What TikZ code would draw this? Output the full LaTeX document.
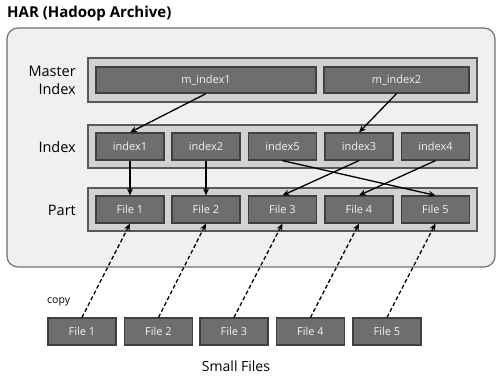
\documentclass[tikz,border=0pt]{standalone}
\usepackage{fontspec}
\setmainfont{Open Sans}
\usetikzlibrary{arrows.meta}
\definecolor{frameFill}{HTML}{F0F0F0}
\definecolor{frameLine}{HTML}{707070}
\definecolor{bandFill}{HTML}{D2D2D2}
\definecolor{bandLine}{HTML}{595959}
\definecolor{cellFill}{HTML}{6E6E6E}
\definecolor{cellLine}{HTML}{404040}
\definecolor{cellText}{HTML}{F2F2F2}
\tikzset{
  band/.style={draw=bandLine, line width=1.2bp, fill=bandFill, inner sep=0pt,
    minimum width=389bp, minimum height=43bp},
  cell/.style={draw=cellLine, line width=1.2bp, fill=cellFill, inner sep=0pt,
    minimum width=68bp, minimum height=27bp, text=cellText,
    font=\fontsize{11bp}{13bp}\selectfont},
  rowlabel/.style={anchor=east, align=right, inner sep=0pt,
    font=\fontsize{14.5bp}{18bp}\selectfont},
  link/.style={line width=1.3bp, -{Stealth[length=7bp,width=6bp]}},
  copylink/.style={link, dash pattern=on 4bp off 2.5bp}
}
\begin{document}
\begin{tikzpicture}[x=1bp,y=-1bp]
\useasboundingbox (0,0) rectangle (496,377);

% title
\node[anchor=west, inner sep=0pt, font=\bfseries\fontsize{15bp}{18bp}\selectfont]
  (title) at (7,14) {HAR (Hadoop Archive)};

% archive frame
\draw[draw=frameLine, line width=1.2bp, fill=frameFill, rounded corners=11bp]
  (7,28) rectangle (495,267);

% bands
\node[band, minimum height=44bp] (bandM) at (282.5,80) {};
\node[band] (bandI) at (282.5,146.5) {};
\node[band] (bandP) at (282.5,209.5) {};

% row labels
\node[rowlabel] (lblM) at (76,80) {Master\\Index};
\node[rowlabel] (lblI) at (76,147) {Index};
\node[rowlabel] (lblP) at (76,210) {Part};

% master index cells
\node[cell, minimum width=220bp, minimum height=26bp] (m1) at (206,80) {m\_index1};
\node[cell, minimum width=145bp, minimum height=26bp] (m2) at (396.5,80) {m\_index2};

% index cells
\node[cell] (i1) at (130,146.5) {index1};
\node[cell] (i2) at (206,146.5) {index2};
\node[cell] (i5) at (282.5,146.5) {index5};
\node[cell] (i3) at (359,146.5) {index3};
\node[cell] (i4) at (435.5,146.5) {index4};

% part cells
\node[cell] (p1) at (130,209.5) {File 1};
\node[cell] (p2) at (206,209.5) {File 2};
\node[cell] (p3) at (282.5,209.5) {File 3};
\node[cell] (p4) at (359,209.5) {File 4};
\node[cell] (p5) at (435.5,209.5) {File 5};

% small files
\node[cell] (s1) at (82,331.5) {File 1};
\node[cell] (s2) at (158.5,331.5) {File 2};
\node[cell] (s3) at (234,331.5) {File 3};
\node[cell] (s4) at (310.5,331.5) {File 4};
\node[cell] (s5) at (387,331.5) {File 5};

\node[anchor=west, inner sep=0pt, font=\fontsize{10.5bp}{12bp}\selectfont]
  (copy) at (47,302) {copy};
\node[inner sep=0pt, font=\fontsize{14bp}{17bp}\selectfont]
  (small) at (236,366) {Small Files};

% master index -> index
\draw[link] (m1.south) -- (i1.north);
\draw[link] (m2.south) -- (i3.north);

% index -> part
\draw[link] (i1.south) -- (p1.north);
\draw[link] (i2.south) -- (p2.north);
\draw[link] (i5.south) -- (p5.north);
\draw[link] (i3.south) -- (p3.north);
\draw[link] (i4.south) -- (p4.north);

% small files copied into parts
\draw[copylink] (s1.north) -- (p1.south);
\draw[copylink] (s2.north) -- (p2.south);
\draw[copylink] (s3.north) -- (p3.south);
\draw[copylink] (s4.north) -- (p4.south);
\draw[copylink] (s5.north) -- (p5.south);
\end{tikzpicture}
\end{document}
